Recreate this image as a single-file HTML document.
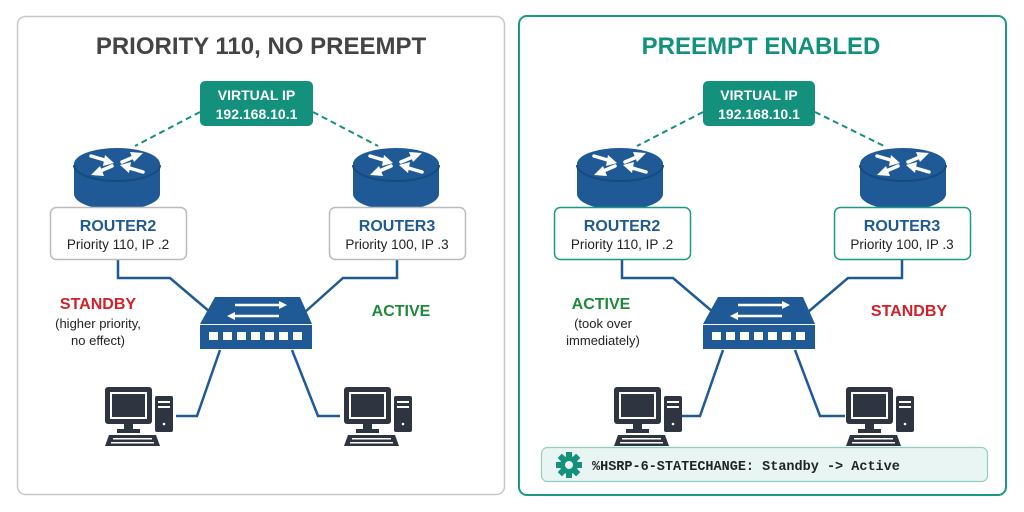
<!DOCTYPE html>
<html><head><meta charset="utf-8"><style>
html,body{margin:0;padding:0;background:#fff;}
svg{display:block;font-family:"Liberation Sans",sans-serif;}
</style></head><body>
<svg width="1024" height="512" viewBox="0 0 1024 512" xmlns="http://www.w3.org/2000/svg">
<defs>
<g id="router">
  <path d="M-43,0 V30 A43,16 0 0 0 43,30 V0 Z" fill="#1f5a96"/>
  <ellipse cx="0" cy="0" rx="43" ry="16" fill="#1f5a96"/>
  <path d="M-43,1 A43,16 0 0 0 43,1" fill="none" stroke="#174a7e" stroke-width="2"/>
  <g stroke="#fff" stroke-width="3.5" fill="#fff" stroke-linecap="round">
    <line x1="-26" y1="-8" x2="-9" y2="-3"/><polygon points="-3,-1 -12,-9 -14,2" stroke="none"/>
    <line x1="26" y1="8" x2="9" y2="3"/><polygon points="3,1 12,9 14,-2" stroke="none"/>
    <line x1="5" y1="-2" x2="19" y2="-8"/><polygon points="26,-11 13,-12 17,-2" stroke="none"/>
    <line x1="-5" y1="2" x2="-19" y2="8"/><polygon points="-26,11 -13,12 -17,2" stroke="none"/>
  </g>
</g>
<g id="switch">
  <polygon points="-42,0 43,0 55,27 -57,27" fill="#1f5a96"/>
  <rect x="-57" y="28" width="112" height="24" fill="#1f5a96"/>
  <g fill="#fff">
    <rect x="-48" y="35" width="9" height="8"/><rect x="-34" y="35" width="9" height="8"/><rect x="-20" y="35" width="9" height="8"/><rect x="-6" y="35" width="9" height="8"/><rect x="8" y="35" width="9" height="8"/><rect x="22" y="35" width="9" height="8"/><rect x="36" y="35" width="9" height="8"/>
  </g>
  <g stroke="#fff" stroke-width="2.5" fill="#fff">
    <line x1="-22" y1="8" x2="25" y2="8"/><polygon points="30,8 22,4 22,12" stroke="none"/>
    <line x1="-25" y1="19" x2="22" y2="19"/><polygon points="-30,19 -22,15 -22,23" stroke="none"/>
  </g>
</g>
<g id="pc">
  <rect x="0" y="0" width="47" height="37" rx="3" fill="#2e3440"/>
  <rect x="5" y="5" width="37" height="27" fill="#fff"/>
  <rect x="7" y="7" width="33" height="23" fill="#2e3440"/>
  <rect x="19" y="37" width="9" height="6" fill="#2e3440"/>
  <rect x="12" y="42" width="23" height="4" fill="#2e3440"/>
  <rect x="50" y="9" width="18" height="36" rx="2" fill="#2e3440"/>
  <rect x="53" y="14" width="12" height="2" fill="#fff"/><rect x="53" y="19" width="12" height="2" fill="#fff"/>
  <circle cx="59" cy="37" r="1.3" fill="#fff"/>
  <polygon points="0,59 4,48 51,48 55,59" fill="#2e3440"/>
  <g fill="#fff"><rect x="8" y="51" width="39" height="1.5"/><rect x="6" y="55" width="43" height="1.5"/></g>
</g>
</defs>

<rect x="17.5" y="16.5" width="487" height="478" rx="8" fill="#fff" stroke="#c8c8c8" stroke-width="1.5"/>
<rect x="519" y="16" width="487" height="479" rx="8" fill="#fff" stroke="#1a9a85" stroke-width="2"/>

<text x="261" y="54" text-anchor="middle" font-size="24" font-weight="bold" fill="#444">PRIORITY 110, NO PREEMPT</text>
<text x="761" y="54" text-anchor="middle" font-size="24" font-weight="bold" fill="#13917d">PREEMPT ENABLED</text>

<!-- LEFT -->
<g stroke="#13917d" stroke-width="2" stroke-dasharray="6,4" fill="none">
  <line x1="200" y1="112" x2="135" y2="146"/><line x1="313" y1="112" x2="378" y2="146"/>
</g>
<rect x="200" y="81" width="113" height="45" rx="5" fill="#13917d"/>
<text x="256.5" y="100" text-anchor="middle" font-size="14" font-weight="bold" fill="#fff">VIRTUAL IP</text>
<text x="256.5" y="119" text-anchor="middle" font-size="14" font-weight="bold" fill="#fff">192.168.10.1</text>

<use href="#router" x="117" y="164"/>
<use href="#router" x="396" y="164"/>

<g stroke="#1f5a96" stroke-width="2.5" fill="none">
  <polyline points="118,259 118,278 170,278 210,312"/>
  <polyline points="397,259 397,278 343,278 305,312"/>
  <polyline points="220,350 197,416 176,416"/>
  <polyline points="292,350 318,416 340,416"/>
</g>
<rect x="50.5" y="207.5" width="136" height="52" rx="6" fill="#fff" stroke="#bbb" stroke-width="1.5"/>
<text x="118" y="231" text-anchor="middle" font-size="16" font-weight="bold" fill="#1f5a96">ROUTER2</text>
<text x="118" y="249" text-anchor="middle" font-size="13.5" fill="#222">Priority 110, IP .2</text>
<rect x="329.5" y="207.5" width="136" height="52" rx="6" fill="#fff" stroke="#bbb" stroke-width="1.5"/>
<text x="397" y="231" text-anchor="middle" font-size="16" font-weight="bold" fill="#1f5a96">ROUTER3</text>
<text x="397" y="249" text-anchor="middle" font-size="13.5" fill="#222">Priority 100, IP .3</text>

<use href="#switch" x="257" y="297"/>
<use href="#pc" x="105" y="387"/>
<use href="#pc" x="344" y="387"/>

<text x="98" y="309" text-anchor="middle" font-size="16" font-weight="bold" fill="#d0202a">STANDBY</text>
<text x="98" y="328" text-anchor="middle" font-size="13" fill="#222">(higher priority,</text>
<text x="98" y="345" text-anchor="middle" font-size="13" fill="#222">no effect)</text>
<text x="401" y="316" text-anchor="middle" font-size="16" font-weight="bold" fill="#1e8a3a">ACTIVE</text>

<!-- RIGHT -->
<g stroke="#13917d" stroke-width="2" stroke-dasharray="6,4" fill="none">
  <line x1="703" y1="112" x2="637" y2="146"/><line x1="815" y1="112" x2="884" y2="146"/>
</g>
<rect x="703" y="81" width="112" height="45" rx="5" fill="#13917d"/>
<text x="759" y="100" text-anchor="middle" font-size="14" font-weight="bold" fill="#fff">VIRTUAL IP</text>
<text x="759" y="119" text-anchor="middle" font-size="14" font-weight="bold" fill="#fff">192.168.10.1</text>

<use href="#router" x="620" y="164"/>
<use href="#router" x="903" y="164"/>

<g stroke="#1f5a96" stroke-width="2.5" fill="none">
  <polyline points="622,259 622,278 673,278 713,312"/>
  <polyline points="902,259 902,278 848,278 808,312"/>
  <polyline points="723,350 700,416 679,416"/>
  <polyline points="795,350 820,416 845,416"/>
</g>
<rect x="554.5" y="207.5" width="136" height="52" rx="6" fill="#fff" stroke="#1a9a85" stroke-width="1.5"/>
<text x="622" y="231" text-anchor="middle" font-size="16" font-weight="bold" fill="#1f5a96">ROUTER2</text>
<text x="622" y="249" text-anchor="middle" font-size="13.5" fill="#222">Priority 110, IP .2</text>
<rect x="834.5" y="207.5" width="136" height="52" rx="6" fill="#fff" stroke="#1a9a85" stroke-width="1.5"/>
<text x="902" y="231" text-anchor="middle" font-size="16" font-weight="bold" fill="#1f5a96">ROUTER3</text>
<text x="902" y="249" text-anchor="middle" font-size="13.5" fill="#222">Priority 100, IP .3</text>

<use href="#switch" x="760" y="297"/>
<use href="#pc" x="614" y="387"/>
<use href="#pc" x="846" y="387"/>

<text x="601" y="309" text-anchor="middle" font-size="16" font-weight="bold" fill="#1e8a3a">ACTIVE</text>
<text x="603" y="328" text-anchor="middle" font-size="13" fill="#222">(took over</text>
<text x="603" y="345" text-anchor="middle" font-size="13" fill="#222">immediately)</text>
<text x="909" y="316" text-anchor="middle" font-size="16" font-weight="bold" fill="#d0202a">STANDBY</text>

<rect x="541.5" y="447.5" width="446" height="34" rx="6" fill="#e9f5f2" stroke="#8fcfc2" stroke-width="1.2"/>
<g transform="translate(569,465)" fill="#13917d">
  <circle r="9"/>
  <g><rect x="-3" y="-13" width="6" height="26"/><rect x="-13" y="-3" width="26" height="6"/>
  <rect x="-3" y="-13" width="6" height="26" transform="rotate(45)"/><rect x="-3" y="-13" width="6" height="26" transform="rotate(-45)"/></g>
  <circle r="4" fill="#e9f5f2"/>
</g>
<text x="592" y="470" font-family="Liberation Mono, monospace" font-size="13.5" font-weight="bold" fill="#222">%HSRP-6-STATECHANGE: Standby -&gt; Active</text>
</svg>
</body></html>
